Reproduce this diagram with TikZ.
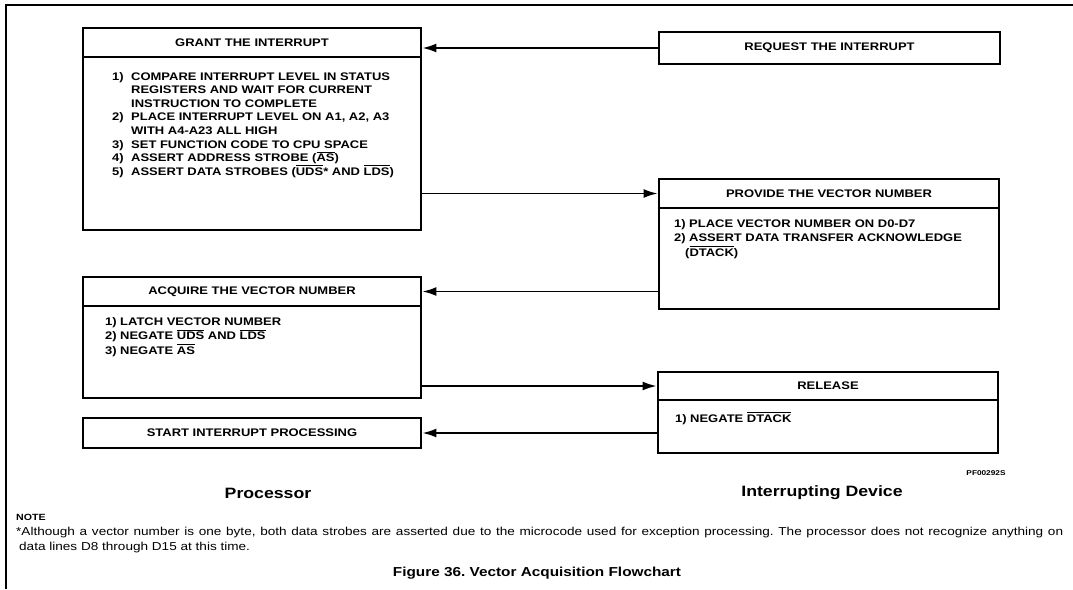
\documentclass[tikz,border=0pt]{standalone}
\usepackage{fontspec}
\setmainfont{Liberation Sans}[FakeStretch=1.18]
\usetikzlibrary{arrows.meta}
\newcommand{\ovl}[1]{\vbox{\hrule height 1.1pt\kern1.2pt\hbox{#1}}}
\frenchspacing
\begin{document}
\begin{tikzpicture}[x=1pt, y=-1pt,
	box/.style={shape=rectangle, draw, line width=2.8pt, inner sep=0pt, font=\bfseries\fontsize{11}{13}\selectfont},
	list/.style={anchor=north west, align=left, inner sep=0pt, font=\bfseries\fontsize{11}{14.5}\selectfont},
	wire/.style={line width=1.8pt, -{Latex[length=14pt, width=9pt]}}]
	\useasboundingbox (0,0) rectangle (1073,589);
	% Paths, nodes and wires:
	\draw[line width=1.5pt] (1073,5) -- (6,5) -- (6,589);
	\node[box, minimum width=338pt, minimum height=29pt] (grantHead) at (252, 42.5) {GRANT THE INTERRUPT};
	\node[box, minimum width=338pt, minimum height=173pt] (grantBody) at (252, 143.5) {};
	\node[list, font=\bfseries\fontsize{11}{13.6}\selectfont] (grantList) at (112, 72) {\makebox[19pt][l]{1)}COMPARE INTERRUPT LEVEL IN STATUS\\\hspace*{19pt}REGISTERS AND WAIT FOR CURRENT\\\hspace*{19pt}INSTRUCTION TO COMPLETE\\\makebox[19pt][l]{2)}PLACE INTERRUPT LEVEL ON A1, A2, A3\\\hspace*{19pt}WITH A4-A23 ALL HIGH\\\makebox[19pt][l]{3)}SET FUNCTION CODE TO CPU SPACE\\\makebox[19pt][l]{4)}ASSERT ADDRESS STROBE (\ovl{AS})\\\makebox[19pt][l]{5)}ASSERT DATA STROBES (\ovl{UDS}* AND \ovl{LDS})};
	\node[box, minimum width=341pt, minimum height=32pt] (request) at (829.5, 48) {REQUEST THE INTERRUPT};
	\node[box, minimum width=340pt, minimum height=29pt] (provideHead) at (829, 193.5) {PROVIDE THE VECTOR NUMBER};
	\node[box, minimum width=340pt, minimum height=101pt] (provideBody) at (829, 258.5) {};
	\node[list] (provideList) at (674, 219) {\makebox[15pt][l]{1)}PLACE VECTOR NUMBER ON D0-D7\\\makebox[15pt][l]{2)}ASSERT DATA TRANSFER ACKNOWLEDGE\\\hspace*{11pt}(\ovl{DTACK})};
	\node[box, minimum width=338pt, minimum height=29pt] (acquireHead) at (252, 291.5) {ACQUIRE THE VECTOR NUMBER};
	\node[box, minimum width=338pt, minimum height=92pt] (acquireBody) at (252, 352) {};
	\node[list] (acquireList) at (105, 317) {\makebox[15pt][l]{1)}LATCH VECTOR NUMBER\\\makebox[15pt][l]{2)}NEGATE \ovl{UDS} AND \ovl{LDS}\\\makebox[15pt][l]{3)}NEGATE \ovl{AS}};
	\node[box, minimum width=340pt, minimum height=28pt] (releaseHead) at (828, 386) {RELEASE};
	\node[box, minimum width=340pt, minimum height=53pt] (releaseBody) at (828, 426.5) {};
	\node[list] (releaseList) at (675, 412) {\makebox[15pt][l]{1)}NEGATE \ovl{DTACK}};
	\node[box, minimum width=338pt, minimum height=30pt] (start) at (252, 433) {START INTERRUPT PROCESSING};
	\draw[wire] (request.west) -- (request.west -| grantHead.east);
	\draw[wire] (provideHead.west -| grantBody.east) -- (provideHead.west);
	\draw[wire] (acquireHead.east -| provideBody.west) -- (acquireHead.east);
	\draw[wire] (releaseHead.west -| acquireBody.east) -- (releaseHead.west);
	\draw[wire] (start.east -| releaseBody.west) -- (start.east);
	\node[font=\bfseries\fontsize{7}{8}\selectfont] (figCode) at (986, 473) {PF00292S};
	\node[font=\bfseries\fontsize{15}{17}\selectfont] (procLabel) at (268, 493) {Processor};
	\node[font=\bfseries\fontsize{15}{17}\selectfont] (devLabel) at (822, 493) {Interrupting Device};
	\node[anchor=west, inner sep=0pt, font=\bfseries\fontsize{9}{10}\selectfont] (noteHead) at (16, 517) {NOTE};
	\node[anchor=north west, align=left, inner sep=0pt, font=\fontsize{11.5}{15}\selectfont] (noteText) at (16, 527) {\makebox[1047pt][s]{*Although a vector number is one byte, both data strobes are asserted due to the microcode used for exception processing. The processor does not recognize anything on}\\\hspace*{3pt}data lines D8 through D15 at this time.};
	\node[font=\bfseries\fontsize{13}{15}\selectfont] (caption) at (537, 573) {Figure 36. Vector Acquisition Flowchart};
\end{tikzpicture}
\end{document}
